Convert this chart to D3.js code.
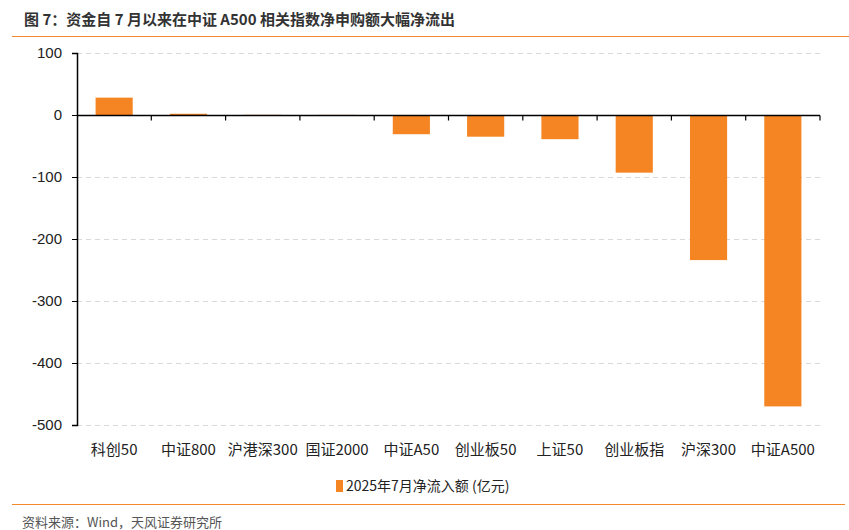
<!DOCTYPE html>
<html lang="zh">
<head>
    <meta charset="UTF-8">
    <title>资金净流入</title>
    <script src="https://cdnjs.cloudflare.com/ajax/libs/d3/7.8.5/d3.min.js"></script>
    <style>
        body { margin: 0; background: #fff; }
        text { font-family: "Liberation Sans", "Noto Sans CJK SC", sans-serif; }
    </style>
</head>
<body>
<script>
    var categories = ["科创50", "中证800", "沪港深300", "国证2000", "中证A50", "创业板50", "上证50", "创业板指", "沪深300", "中证A500"];
    var netFlow = [28, 2, 0.3, 0.2, -31, -35, -39, -93, -234, -470];
    var yTicks = [100, 0, -100, -200, -300, -400, -500];
    var seriesName = "2025年7月净流入额 (亿元)";

    var width = 849, height = 530;
    var margin = {left: 77, right: 29, top: 53, bottom: 105};

    var svg = d3.select("body").append("svg")
        .attr("width", width)
        .attr("height", height);

    // title + rules
    svg.append("text")
        .attr("x", 24).attr("y", 25)
        .attr("font-size", 15).attr("font-weight", "bold")
        .attr("fill", "#333")
        .style("font-family", "'Noto Sans CJK SC', sans-serif")
        .text("图 7：资金自 7 月以来在中证 A500 相关指数净申购额大幅净流出");
    svg.append("line").attr("x1", 12).attr("x2", 849).attr("y1", 36.5).attr("y2", 36.5)
        .attr("stroke", "#F08A2C").attr("stroke-width", 1);
    svg.append("line").attr("x1", 12).attr("x2", 845).attr("y1", 504.5).attr("y2", 504.5)
        .attr("stroke", "#F08A2C").attr("stroke-width", 1);
    svg.append("text")
        .attr("x", 22).attr("y", 527)
        .attr("font-size", 13).attr("fill", "#555")
        .style("font-family", "'Noto Sans CJK SC', sans-serif")
        .text("资料来源：Wind，天风证券研究所");

    var x = d3.scaleBand()
        .domain(categories)
        .range([margin.left, width - margin.right])
        .paddingInner(0.5).paddingOuter(0.25);

    var y = d3.scaleLinear()
        .domain([-500, 100])
        .range([425, 53]);

    // gridlines
    svg.append("g").selectAll("line").data(yTicks.filter(function(d){ return d !== 0; }))
        .enter().append("line")
        .attr("x1", margin.left).attr("x2", width - margin.right)
        .attr("y1", function(d){ return Math.round(y(d)) + 0.5; })
        .attr("y2", function(d){ return Math.round(y(d)) + 0.5; })
        .attr("stroke", "#d9d9d9").attr("stroke-dasharray", "5,4");

    // bars
    svg.append("g").selectAll("rect").data(netFlow)
        .enter().append("rect")
        .attr("x", function(d, i){ return x(categories[i]); })
        .attr("width", x.bandwidth())
        .attr("y", function(d){ return y(Math.max(0, d)); })
        .attr("height", function(d){ return Math.abs(y(d) - y(0)); })
        .attr("fill", "#F58523");

    // y axis (plain hyphen for negatives, like the source)
    var yAxis = d3.axisLeft(y).tickValues(yTicks).tickSize(5).tickPadding(10)
        .tickFormat(function(d){ return String(d); });
    var gy = svg.append("g")
        .attr("transform", "translate(" + margin.left + ",0)")
        .call(yAxis);
    gy.select(".domain").attr("stroke", "#000").attr("stroke-width", 1.5);
    gy.selectAll(".tick line").attr("stroke", "#000");
    gy.selectAll(".tick text").attr("font-size", 15).attr("fill", "#222")
        .style("font-family", "'Liberation Sans', sans-serif");

    // zero axis with ticks between categories
    var zeroY = Math.round(y(0)) + 0.5;
    svg.append("line")
        .attr("x1", margin.left).attr("x2", width - margin.right)
        .attr("y1", zeroY).attr("y2", zeroY)
        .attr("stroke", "#000").attr("stroke-width", 1.5);
    var step = x.step();
    var bounds = d3.range(1, categories.length + 1).map(function(i){ return margin.left + i * step; });
    svg.append("g").selectAll("line").data(bounds)
        .enter().append("line")
        .attr("x1", function(d){ return d; }).attr("x2", function(d){ return d; })
        .attr("y1", zeroY).attr("y2", zeroY + 5)
        .attr("stroke", "#000").attr("stroke-width", 1.2);

    // category labels
    svg.append("g").selectAll("text").data(categories)
        .enter().append("text")
        .attr("x", function(d){ return x(d) + x.bandwidth() / 2; })
        .attr("y", 455)
        .attr("text-anchor", "middle")
        .attr("font-size", 15).attr("fill", "#222")
        .style("font-family", "'Noto Sans CJK SC', sans-serif")
        .text(function(d){ return d; });

    // legend
    var lg = svg.append("g").attr("transform", "translate(336,480)");
    lg.append("rect").attr("width", 7).attr("height", 12).attr("fill", "#F58523");
    lg.append("text").attr("x", 10).attr("y", 11)
        .attr("font-size", 14).attr("fill", "#222")
        .style("font-family", "'Noto Sans CJK SC', sans-serif")
        .text(seriesName);
</script>
</body>
</html>
